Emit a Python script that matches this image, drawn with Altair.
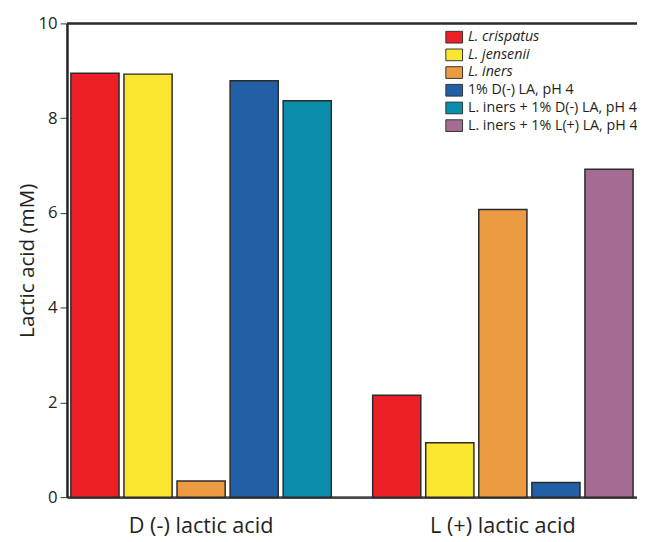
import altair as alt
import pandas as pd

groups = ["D (-) lactic acid", "L (+) lactic acid"]
series = [
    "L. crispatus",
    "L. jensenii",
    "L. iners",
    "1% D(-) LA, pH 4",
    "L. iners + 1% D(-) LA, pH 4",
    "L. iners + 1% L(+) LA, pH 4",
]
colors = ["#ED1F26", "#FAE52F", "#EC9B42", "#225FA6", "#0A8DAA", "#A66B92"]

# bars per group (series present in each group, in drawing order)
d_series = ["L. crispatus", "L. jensenii", "L. iners", "1% D(-) LA, pH 4",
            "L. iners + 1% D(-) LA, pH 4"]
d_values = [8.95, 8.93, 0.34, 8.79, 8.37]
l_series = ["L. crispatus", "L. jensenii", "L. iners", "1% D(-) LA, pH 4",
            "L. iners + 1% L(+) LA, pH 4"]
l_values = [2.15, 1.15, 6.07, 0.31, 6.92]
slots = [1, 2, 3, 4, 5]
y_ticks = [0, 2, 4, 6, 8, 10]
y_top = [10]

df = pd.DataFrame({
    "group": [groups[0]] * 5 + [groups[1]] * 5,
    "series": d_series + l_series,
    "slot": slots + slots,
    "value": d_values + l_values,
})

FONT = "Open Sans"
TXT = "#231F20"

italic_expr = ("datum.value == 'L. crispatus' || datum.value == 'L. jensenii' || "
               "datum.value == 'L. iners' ? 'italic' : 'normal'")

bars = alt.Chart(df).mark_bar(stroke="#2b2b2b", strokeWidth=1.5).encode(
    x=alt.X(
        "group:N",
        sort=groups,
        scale=alt.Scale(paddingInner=0.137, paddingOuter=0.013),
        axis=alt.Axis(
            title=None, labelAngle=0, labelFontSize=22, labelFont=FONT,
            labelColor=TXT, ticks=False, labelPadding=19,
            domainColor="#4a4a4a", domainWidth=3,
        ),
    ),
    xOffset=alt.XOffset(
        "slot:O",
        scale=alt.Scale(paddingInner=0.0926, paddingOuter=0),
    ),
    y=alt.Y(
        "value:Q",
        scale=alt.Scale(domain=[0, 10], nice=False),
        axis=alt.Axis(
            title="Lactic acid (mM)", values=y_ticks, grid=False,
            labelFontSize=17, labelFont=FONT, labelColor=TXT,
            titleFontSize=21, titleFont=FONT, titleFontWeight="normal",
            titleColor=TXT, titlePadding=1,
            tickSize=7, tickColor="#333333", tickWidth=1,
            domainColor="#222222", domainWidth=2.5, labelPadding=3,
        ),
    ),
    fill=alt.Fill(
        "series:N",
        scale=alt.Scale(domain=series, range=colors),
        legend=alt.Legend(
            title=None, orient="none", legendX=385, legendY=5,
            symbolType="M-1,-0.7H1V0.7H-1Z", symbolSize=289,
            symbolStrokeColor="#333333", symbolStrokeWidth=1,
            labelFont=FONT, labelFontSize=14.5, labelColor=TXT,
            labelLimit=300, rowPadding=1, labelOffset=5,
            labelFontStyle=alt.ExprRef(italic_expr),
            padding=0,
        ),
    ),
)

top = alt.Chart(pd.DataFrame({"y": y_top})).mark_rule(
    color="#2b2b2b", strokeWidth=2.5
).encode(y="y:Q")

chart = alt.layer(bars, top).properties(
    width=580,
    height=482,
    autosize=alt.AutoSizeParams(type="none"),
    padding={"left": 60, "top": 11, "right": 0, "bottom": 44},
).configure_view(stroke=None).configure(background="white")

chart.save("out.html", embed_options={"renderer": "svg", "actions": False})
